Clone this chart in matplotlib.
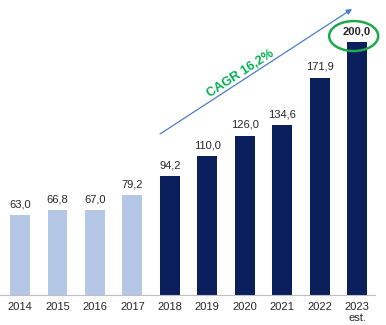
import matplotlib
matplotlib.use("Agg")
import matplotlib.pyplot as plt
from matplotlib.patches import Ellipse

plt.rcParams["font.family"] = ["Liberation Sans", "DejaVu Sans"]

# data
years = ["2014", "2015", "2016", "2017", "2018", "2019", "2020", "2021", "2022", "2023\nest."]
values = [63.0, 66.8, 67.0, 79.2, 94.2, 110.0, 126.0, 134.6, 171.9, 200.0]
labels = ["63,0", "66,8", "67,0", "79,2", "94,2", "110,0", "126,0", "134,6", "171,9", "200,0"]
cagr_text = "CAGR 16,2%"

light = "#B4C7E7"
dark = "#0B1F5C"
colors = [light] * 4 + [dark] * 6

fig = plt.figure(figsize=(3.86, 3.25), dpi=100)
ax = fig.add_axes([0, 30 / 325, 375 / 386, 295 / 325])

x = list(range(len(years)))
ax.bar(x, values, width=0.53, color=colors, zorder=2)

for i in x:
    bold = i == len(x) - 1
    ax.text(i, values[i] + 4.5, labels[i], ha="center", va="bottom",
            fontsize=8, color="#262626",
            fontweight="bold" if bold else "normal")

ax.set_xlim(-0.534, 9.48)
ax.set_ylim(0, 233.2)

ax.set_xticks(x)
ax.set_xticklabels(years, fontsize=8, color="#262626", linespacing=1.1)
ax.tick_params(axis="x", length=0, pad=5)
ax.set_yticks([])
for s in ["top", "right", "left"]:
    ax.spines[s].set_visible(False)
ax.spines["bottom"].set_color("#BFBFBF")
ax.spines["bottom"].set_linewidth(0.8)

# CAGR arrow
ax.annotate("", xy=(8.868, 226.1), xytext=(3.74, 127.3),
            arrowprops=dict(arrowstyle="-|>", color="#4A7EC7", lw=0.9,
                            mutation_scale=8, shrinkA=0, shrinkB=0))
ax.text(5.9, 175, cagr_text, rotation=33, ha="center", va="center",
        fontsize=9.2, fontweight="bold", color="#00B050", rotation_mode="anchor")

# highlight ellipse
ax.add_patch(Ellipse((8.91, 204.7), 1.31, 23.7, fill=False,
                     edgecolor="#1DAA4A", lw=1.8, zorder=3, clip_on=False))

fig.savefig("out.png", dpi=100)
